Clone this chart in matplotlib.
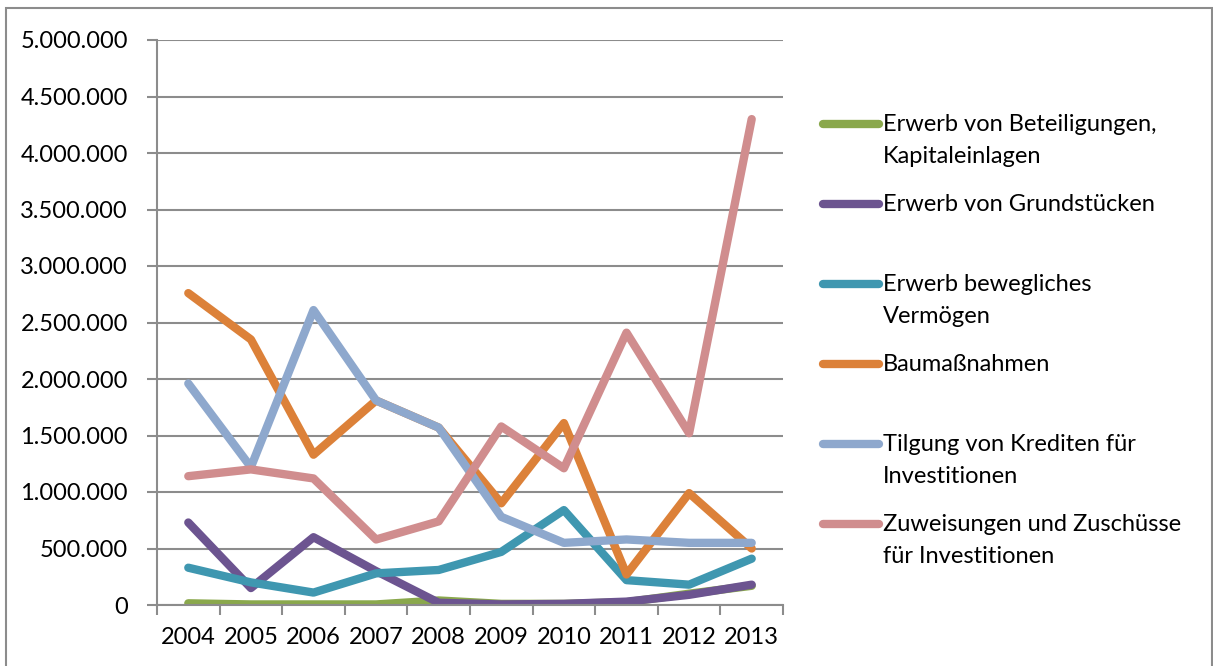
import matplotlib.pyplot as plt
from matplotlib.lines import Line2D
from matplotlib.patches import Rectangle
from matplotlib.ticker import FuncFormatter, FixedLocator, NullFormatter

years = ['2004', '2005', '2006', '2007', '2008', '2009', '2010', '2011', '2012', '2013']

beteiligungen = [15000, 5000, 5000, 5000, 40000, 10000, 10000, 25000, 100000, 170000]
grundstuecke = [730000, 150000, 600000, 300000, 20000, 5000, 10000, 30000, 90000, 180000]
bewegliches = [330000, 200000, 110000, 280000, 310000, 470000, 840000, 220000, 180000, 410000]
baumassnahmen = [2760000, 2350000, 1330000, 1810000, 1570000, 900000, 1610000, 270000, 990000, 500000]
tilgung = [1960000, 1220000, 2610000, 1810000, 1570000, 780000, 550000, 580000, 550000, 550000]
zuweisungen = [1140000, 1200000, 1120000, 580000, 740000, 1580000, 1210000, 2410000, 1520000, 4300000]

labels = ['Erwerb von Beteiligungen,\nKapitaleinlagen',
          'Erwerb von Grundstücken',
          'Erwerb bewegliches\nVermögen',
          'Baumaßnahmen',
          'Tilgung von Krediten für\nInvestitionen',
          'Zuweisungen und Zuschüsse\nfür Investitionen']
series = [beteiligungen, grundstuecke, bewegliches, baumassnahmen, tilgung, zuweisungen]
colors = ['#8aa84c', '#6c5490', '#3f97b0', '#dc8139', '#8ea8cd', '#d08d8e']

plt.rcParams['font.family'] = ['Lato', 'DejaVu Sans']
W, H = 1213, 666
fig = plt.figure(figsize=(W / 100, H / 100), dpi=100)

# outer chart frame
fig.patches.append(Rectangle((6 / W, -0.05), (1212 - 6) / W, 1.05 - 8 / H,
                             transform=fig.transFigure, fill=False,
                             edgecolor='#8c8c8c', linewidth=1.5))

ax = fig.add_axes([157 / W, 1 - 605 / H, (783 - 157) / W, (605 - 40) / H])
x = list(range(len(years)))
for vals, c in zip(series, colors):
    ax.plot(x, vals, color=c, linewidth=6, solid_capstyle='round', solid_joinstyle='round')

ax.set_xlim(-0.5, len(years) - 0.5)
ax.set_ylim(0, 5000000)
ax.set_yticks(range(0, 5000001, 500000))
ax.yaxis.set_major_formatter(FuncFormatter(lambda v, p: f'{int(v):,}'.replace(',', '.')))
ax.yaxis.grid(True, color='#8c8c8c', linewidth=1.5)
ax.set_axisbelow(True)

ax.xaxis.set_major_locator(FixedLocator([i - 0.5 for i in range(len(years) + 1)]))
ax.xaxis.set_major_formatter(NullFormatter())
ax.set_xticks(x, minor=True)
ax.set_xticklabels(years, minor=True)
ax.tick_params(axis='x', which='minor', length=0, labelsize=17, pad=16)
ax.tick_params(axis='x', which='major', length=7, width=1.5, color='#8c8c8c')
ax.tick_params(axis='y', length=7, width=1.5, color='#8c8c8c', labelsize=17, pad=14)

for s in ['top', 'right']:
    ax.spines[s].set_visible(False)
for s in ['left', 'bottom']:
    ax.spines[s].set_color('#8c8c8c')
    ax.spines[s].set_linewidth(1.5)

# legend, drawn by hand so the marker sits on the first text line
legend_y = [124, 204, 284, 364, 444, 524]
for yy, lab, c in zip(legend_y, labels, colors):
    fy = 1 - yy / H
    fig.add_artist(Line2D([823 / W, 879 / W], [fy, fy], transform=fig.transFigure,
                          color=c, linewidth=6, solid_capstyle='round'))
    for i, line in enumerate(lab.split('\n')):
        fig.text(883 / W, 1 - (yy + 7 + 32 * i) / H, line, fontsize=17,
                 va='baseline', ha='left')

fig.savefig('out.png', dpi=100)
